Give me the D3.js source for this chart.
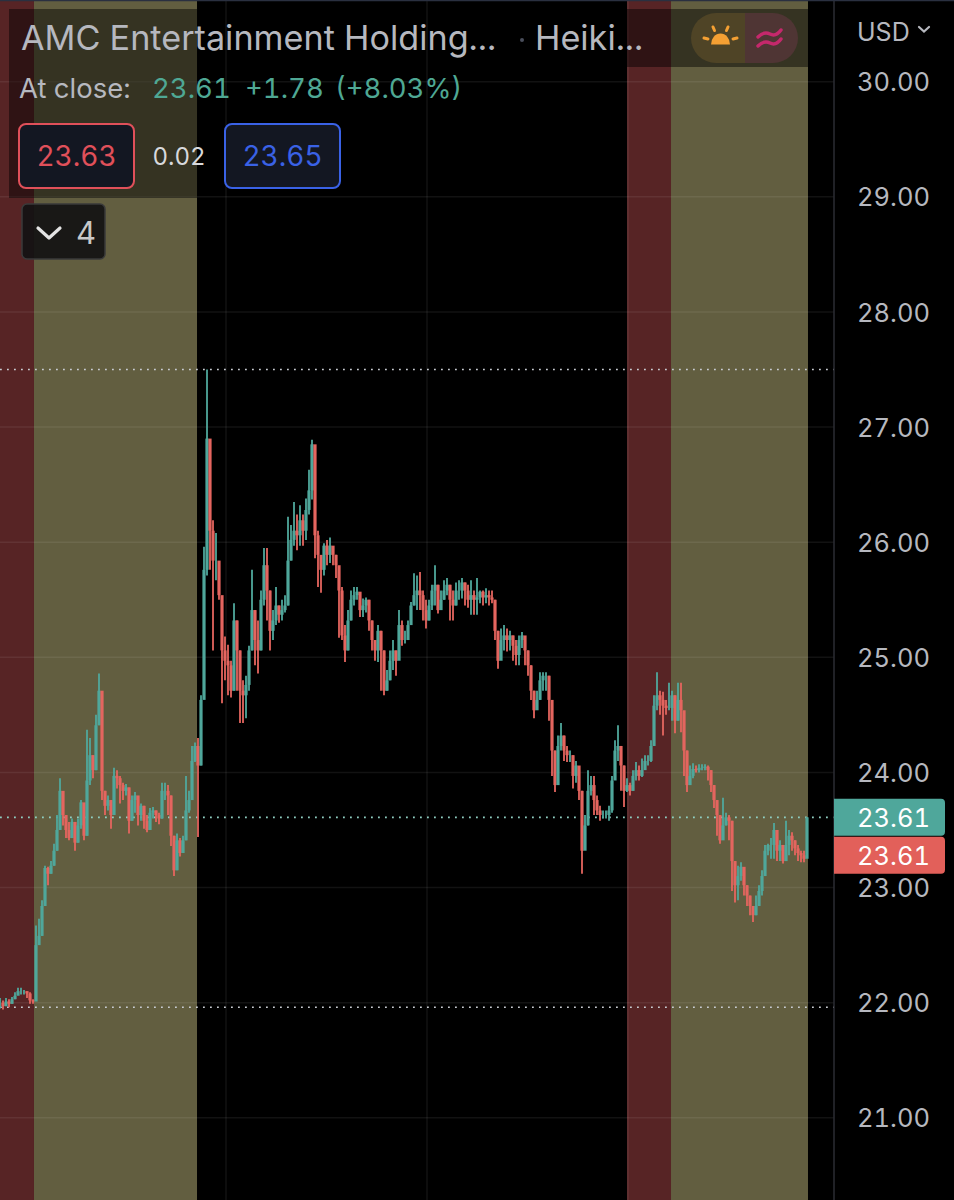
<!DOCTYPE html>
<html>
<head>
<meta charset="utf-8">
<script src="https://cdn.jsdelivr.net/npm/d3@7"></script>
<style>
  html, body { margin: 0; padding: 0; background: #000; }
  svg { display: block; }
  text { font-family: Inter, "Noto Sans", sans-serif; font-variant-numeric: tabular-nums; }
</style>
</head>
<body>
<div id="chart"></div>
<script>
const closes = [22.00,21.97,22.01,21.99,22.03,22.06,22.10,22.10,22.10,22.08,22.02,22.01,
22.50,22.58,22.84,23.17,23.12,23.19,23.32,23.50,23.84,23.63,23.50,23.43,23.57,23.39,23.54,23.74,23.45,23.93,24.15,24.02,24.41,24.71,23.84,23.71,23.76,23.63,23.97,23.95,23.89,23.84,23.87,23.58,23.76,23.80,23.63,23.71,23.58,23.50,23.65,23.67,23.63,23.60,23.84,23.84,23.80,23.45,23.15,23.41,23.30,23.41,23.67,23.76,24.10,24.23,24.06,24.63,
25.76,26.90,26.10,25.84,25.84,25.54,25.06,24.97,24.93,24.71,25.32,25.06,24.71,24.67,24.76,25.06,25.41,25.15,25.06,25.50,25.80,25.58,25.23,25.32,25.45,25.37,25.41,25.45,25.84,26.02,26.10,26.06,26.19,26.10,26.28,26.45,26.85,26.06,25.89,25.76,25.97,25.89,25.97,25.89,25.80,25.58,25.19,25.06,25.32,25.50,25.54,25.57,25.41,25.45,25.50,25.32,25.15,25.06,25.23,25.06,24.71,24.80,24.97,25.06,24.97,25.28,25.15,25.15,25.28,25.45,25.54,25.58,25.54,25.41,25.32,25.45,25.58,25.63,25.41,25.50,25.58,25.63,25.50,25.45,25.58,25.58,25.65,25.58,25.50,25.54,25.50,25.52,25.57,25.52,25.54,25.52,25.50,25.23,24.97,25.15,25.19,25.15,25.19,25.10,25.02,25.15,25.19,25.06,24.93,24.71,24.54,24.63,24.80,24.84,24.84,24.63,24.19,23.89,24.23,24.32,24.19,24.15,24.15,23.97,24.06,23.84,23.32,23.54,23.84,23.89,23.76,23.67,23.63,23.63,23.63,23.67,23.93,24.19,24.23,24.06,23.84,23.89,23.84,23.97,24.02,23.97,24.02,24.10,24.10,24.23,24.58,24.67,24.63,24.58,24.56,24.56,24.67,24.45,24.63,24.54,24.19,23.89,23.97,24.03,24.02,24.04,24.04,24.05,24.02,23.89,23.76,23.63,23.41,23.54,23.61,23.58,23.23,23.02,23.10,23.18,23.02,22.93,22.84,22.76,22.84,22.97,23.10,23.32,23.37,23.37,23.50,23.32,23.37,23.23,23.37,23.45,23.41,23.34,23.30,23.28,23.25,23.61];
const highs = [22.04,22.02,22.04,22.03,22.05,22.09,22.13,22.13,22.11,22.10,22.09,22.03,
22.67,22.73,22.89,23.19,23.18,23.23,23.38,23.63,23.95,23.76,23.63,23.57,23.60,23.54,23.60,23.76,23.71,24.37,24.30,24.15,24.50,24.86,24.60,23.84,23.80,23.76,24.04,24.02,23.97,23.91,23.90,23.87,23.80,23.83,23.76,23.73,23.71,23.63,23.69,23.70,23.67,23.65,23.91,23.91,23.89,23.80,23.45,23.47,23.43,23.45,23.97,23.84,24.23,24.26,24.30,24.67,
25.96,27.50,26.41,26.19,26.08,25.76,25.50,25.18,25.11,24.97,25.47,25.32,25.06,24.80,24.84,25.10,25.76,25.41,25.32,25.58,25.95,25.95,25.58,25.41,25.61,25.45,25.50,25.54,26.22,26.15,26.35,26.24,26.32,26.24,26.38,26.63,26.89,26.52,26.10,25.84,25.99,26.02,26.04,25.95,25.89,25.76,25.61,25.28,25.41,25.58,25.61,25.61,25.54,25.51,25.52,25.50,25.32,25.15,25.28,25.23,25.06,24.89,25.06,25.15,25.06,25.41,25.32,25.23,25.32,25.48,25.73,25.71,25.74,25.58,25.50,25.50,25.63,25.80,25.63,25.58,25.67,25.69,25.63,25.58,25.65,25.67,25.69,25.65,25.63,25.67,25.58,25.69,25.58,25.58,25.60,25.58,25.58,25.50,25.23,25.25,25.28,25.25,25.23,25.19,25.15,25.19,25.22,25.15,25.06,24.93,24.71,24.71,24.87,24.87,24.87,24.84,24.63,24.19,24.32,24.43,24.32,24.23,24.19,24.15,24.10,24.02,23.84,23.63,24.02,23.97,23.97,23.80,23.71,23.67,23.67,23.71,23.97,24.28,24.41,24.23,24.06,23.95,23.91,24.02,24.09,24.06,24.12,24.15,24.15,24.28,24.67,24.87,24.71,24.70,24.63,24.78,24.71,24.67,24.78,24.78,24.50,24.19,24.06,24.08,24.06,24.07,24.07,24.07,24.06,24.02,23.89,23.76,23.63,23.78,23.65,23.63,23.58,23.23,23.19,23.22,23.17,23.02,22.93,22.84,22.93,23.02,23.15,23.37,23.38,23.43,23.56,23.45,23.41,23.37,23.58,23.50,23.48,23.41,23.37,23.32,23.32,23.61];
const lows = [21.95,21.94,21.97,21.96,21.99,22.03,22.07,22.07,22.07,22.04,21.99,21.99,
22.19,22.50,22.58,22.84,23.02,23.12,23.19,23.32,23.50,23.54,23.43,23.41,23.43,23.32,23.39,23.51,23.41,23.45,23.89,23.95,24.02,24.41,23.76,23.63,23.67,23.51,23.63,23.86,23.73,23.76,23.80,23.47,23.58,23.65,23.54,23.58,23.51,23.48,23.50,23.60,23.57,23.55,23.60,23.76,23.63,23.36,23.10,23.15,23.27,23.30,23.41,23.65,23.76,24.09,23.44,24.06,
24.71,25.71,25.76,25.06,25.67,25.50,24.60,24.80,24.67,24.65,24.71,24.71,24.43,24.43,24.47,24.71,25.06,24.93,24.86,25.06,25.45,25.32,25.06,25.15,25.28,25.30,25.32,25.39,25.45,25.84,25.97,25.93,25.97,25.97,26.02,26.24,26.37,25.86,25.61,25.56,25.71,25.80,25.82,25.80,25.69,25.17,25.15,24.96,25.06,25.32,25.45,25.50,25.35,25.35,25.39,25.23,25.06,24.97,24.96,24.71,24.67,24.71,24.80,24.89,24.84,25.02,25.10,25.12,25.15,25.28,25.45,25.41,25.41,25.32,25.25,25.32,25.41,25.45,25.38,25.41,25.50,25.54,25.32,25.32,25.45,25.50,25.51,25.45,25.43,25.37,25.37,25.37,25.47,25.45,25.47,25.45,25.47,25.15,24.90,25.02,25.06,25.05,25.06,24.97,24.93,24.93,25.08,24.93,24.84,24.63,24.47,24.58,24.63,24.71,24.71,24.45,23.97,23.83,23.89,24.19,24.10,24.09,24.09,23.86,23.91,23.76,23.12,23.43,23.54,23.80,23.63,23.63,23.58,23.60,23.60,23.58,23.65,23.97,24.10,23.84,23.70,23.83,23.80,23.84,23.93,23.93,23.96,24.03,24.06,24.09,24.23,24.54,24.50,24.32,24.50,24.54,24.45,24.34,24.45,24.35,23.97,23.83,23.89,23.95,24.00,24.00,24.02,24.02,23.93,23.83,23.69,23.45,23.38,23.45,23.54,23.41,22.97,22.87,22.89,23.06,22.93,22.84,22.76,22.70,22.76,22.84,22.93,23.10,23.28,23.25,23.25,23.23,23.23,23.21,23.23,23.28,23.32,23.28,23.23,23.22,23.22,23.32];

const priceTicks = [21, 22, 23, 24, 25, 26, 27, 28, 29, 30];
const gridBars = [75.33, 142.33, 209.33];

// session shading, in bar numbers
const sessionStarts = [-1, 11.33, 209, 223.67];
const sessionEnds = [11.33, 65.67, 223.67, 269.33];
const sessionKinds = ['ext', 'pre', 'ext', 'pre'];

const dottedPrices = [27.5, 23.61, 21.96];
const dottedColors = ['#c9ccd2', '#8fcfc2', '#c9ccd2'];

const width = 954, height = 1200, plotRight = 834;
const teal = '#4fa79b', red = '#e4655e', labelGrey = '#b6b8bf';

const svg = d3.select('#chart').append('svg')
    .attr('width', width)
    .attr('height', height)
    .style('background', '#000');

// the photo is a little soft, the bars get a touch of blur
svg.append('defs').append('filter')
    .attr('id', 'soft')
    .attr('filterUnits', 'userSpaceOnUse')
    .attr('x', 0).attr('y', 0)
    .attr('width', width).attr('height', height)
    .append('feGaussianBlur')
    .attr('stdDeviation', 0.5);

const x = d3.scaleLinear().domain([0, 270]).range([0, 810]);
const y = d3.scaleLinear().domain([21, 30]).range([1117.8, 81.7]);

// session bands
svg.append('g').selectAll('rect')
    .data(sessionStarts)
    .join('rect')
    .attr('x', d => Math.max(0, x(d)))
    .attr('y', 0)
    .attr('width', (d, i) => x(sessionEnds[i]) - Math.max(0, x(d)))
    .attr('height', height)
    .attr('fill', (d, i) => sessionKinds[i] === 'ext' ? '#572425' : '#625e40');

// grid
svg.append('g').selectAll('line')
    .data(priceTicks)
    .join('line')
    .attr('x1', 0)
    .attr('x2', plotRight)
    .attr('y1', d => y(d))
    .attr('y2', d => y(d))
    .attr('stroke', 'rgba(255,255,255,0.07)')
    .attr('stroke-width', 1.5);

svg.append('g').selectAll('line')
    .data(gridBars)
    .join('line')
    .attr('x1', d => x(d))
    .attr('x2', d => x(d))
    .attr('y1', 0)
    .attr('y2', height)
    .attr('stroke', 'rgba(255,255,255,0.07)')
    .attr('stroke-width', 1.5);

// dotted levels
svg.append('g').selectAll('line')
    .data(dottedPrices)
    .join('line')
    .attr('x1', 0)
    .attr('x2', plotRight)
    .attr('y1', d => y(d))
    .attr('y2', d => y(d))
    .attr('stroke', (d, i) => dottedColors[i])
    .attr('stroke-width', 1.6)
    .attr('stroke-dasharray', '1.8 5.2');

// candles, open is taken as the close before it
const barColor = i => closes[i] >= closes[Math.max(0, i - 1)] ? teal : red;
const candles = svg.append('g').attr('filter', 'url(#soft)');

candles.append('g').selectAll('line')
    .data(closes)
    .join('line')
    .attr('x1', (d, i) => x(i))
    .attr('x2', (d, i) => x(i))
    .attr('y1', (d, i) => y(highs[i]))
    .attr('y2', (d, i) => y(lows[i]))
    .attr('stroke', (d, i) => barColor(i))
    .attr('stroke-opacity', 0.9)
    .attr('stroke-width', 2);

candles.append('g').selectAll('line')
    .data(closes)
    .join('line')
    .attr('x1', (d, i) => x(i))
    .attr('x2', (d, i) => x(i))
    .attr('y1', (d, i) => y(closes[Math.max(0, i - 1)]))
    .attr('y2', d => y(d))
    .attr('stroke', (d, i) => barColor(i))
    .attr('stroke-width', 3.2);

// price axis
svg.append('line')
    .attr('x1', plotRight).attr('x2', plotRight)
    .attr('y1', 0).attr('y2', height)
    .attr('stroke', '#2b2d33')
    .attr('stroke-width', 1.5);

svg.append('line')
    .attr('x1', 0).attr('x2', width)
    .attr('y1', 0.5).attr('y2', 0.5)
    .attr('stroke', '#2a3040')
    .attr('stroke-width', 1.5);

const axis = svg.append('g')
    .attr('transform', 'translate(857,1)')
    .call(d3.axisRight(y).tickValues(priceTicks).tickFormat(d3.format('.2f')).tickSize(0).tickPadding(0));
axis.select('.domain').remove();
axis.selectAll('text')
    .attr('font-size', 25.5)
    .attr('fill', labelGrey)
    .style('font-family', 'Inter, sans-serif');

// last price tags
const lastPrice = closes[closes.length - 1];
const tagColors = [teal, '#e2605a'];
const tagY = [y(lastPrice), y(lastPrice - 0.33)];
tagColors.forEach((c, i) => {
    svg.append('path')
        .attr('d', `M${plotRight},${tagY[i] - 18.5}H941a4,4 0 0 1 4,4V${tagY[i] + 14.5}a4,4 0 0 1 -4,4H${plotRight}Z`)
        .attr('fill', c);
    svg.append('text')
        .attr('x', 857)
        .attr('y', tagY[i] + 9.5)
        .attr('font-size', 25.5)
        .attr('fill', '#fff')
        .text(d3.format('.2f')(lastPrice));
});

// legend overlays
svg.append('rect').attr('x', 9).attr('y', 9).attr('width', 188).attr('height', 189).attr('fill', 'rgba(0,0,0,0.46)');
svg.append('rect').attr('x', 627).attr('y', 9).attr('width', 181).attr('height', 58).attr('fill', 'rgba(0,0,0,0.46)');

svg.append('text').attr('x', 21).attr('y', 50).attr('font-size', 34.2).attr('fill', labelGrey)
    .text('AMC Entertainment Holding...');
svg.append('circle').attr('cx', 522).attr('cy', 40).attr('r', 2).attr('fill', '#4a4e5c');
svg.append('text').attr('x', 535).attr('y', 50).attr('font-size', 34.2).attr('fill', labelGrey)
    .text('Heiki...');

svg.append('text').attr('x', 19).attr('y', 98).attr('font-size', 27.5).attr('fill', labelGrey).text('At close:');
svg.append('text').attr('x', 152).attr('y', 98).attr('font-size', 27.5).attr('fill', '#4fa894').text('23.61');
svg.append('text').attr('x', 245).attr('y', 98).attr('font-size', 27.5).attr('fill', '#4fa894').text('+1.78');
svg.append('text').attr('x', 335).attr('y', 98).attr('font-size', 27.5).attr('fill', '#4fa894').text('(+8.03%)');

// bid / ask boxes
const boxX = [19, 225];
const boxStroke = ['#e0505a', '#3a62e6'];
const boxText = ['23.63', '23.65'];
boxX.forEach((bx, i) => {
    svg.append('rect')
        .attr('x', bx).attr('y', 124)
        .attr('width', 115).attr('height', 64)
        .attr('rx', 7)
        .attr('fill', '#131722')
        .attr('stroke', boxStroke[i])
        .attr('stroke-width', 2);
    svg.append('text')
        .attr('x', bx + 57.5).attr('y', 166)
        .attr('text-anchor', 'middle')
        .attr('font-size', 28)
        .attr('fill', boxStroke[i])
        .text(boxText[i]);
});
svg.append('text').attr('x', 179).attr('y', 165).attr('text-anchor', 'middle')
    .attr('font-size', 24).attr('fill', '#d8d9dc').text('0.02');

// collapse button
svg.append('rect').attr('x', 22).attr('y', 204).attr('width', 83).attr('height', 55).attr('rx', 5)
    .attr('fill', 'rgba(18,18,18,0.92)').attr('stroke', '#3a3a3a').attr('stroke-width', 1.5);
svg.append('path').attr('d', 'M38,228L49,238L60,228').attr('fill', 'none')
    .attr('stroke', '#e4e4e4').attr('stroke-width', 3.2).attr('stroke-linecap', 'round').attr('stroke-linejoin', 'round');
svg.append('text').attr('x', 76).attr('y', 244).attr('font-size', 31).attr('fill', '#c8c8c8').text('4');

// session pill
svg.append('path').attr('d', 'M745,13H716a25,25 0 0 0 0,50H745Z').attr('fill', '#4f4426');
svg.append('path').attr('d', 'M745,13H773a25,25 0 0 1 0,50H745Z').attr('fill', '#4f3534');
svg.append('path').attr('d', 'M711,44.5a9.5,11 0 0 1 19,0Z').attr('fill', '#f5a033');
const rays = ['M704,38L708,39', 'M713,27L714.5,30.5', 'M726.5,30.5L728,27', 'M733,39L737,38'];
svg.append('g').selectAll('path')
    .data(rays)
    .join('path')
    .attr('d', d => d)
    .attr('stroke', '#f5a033')
    .attr('stroke-width', 3)
    .attr('stroke-linecap', 'round');
const waves = ['M758,37q6,-6 12,-3t11,-4', 'M758,46q6,-6 12,-3t11,-4'];
svg.append('g').selectAll('path')
    .data(waves)
    .join('path')
    .attr('d', d => d)
    .attr('fill', 'none')
    .attr('stroke', '#c4286c')
    .attr('stroke-width', 3.4)
    .attr('stroke-linecap', 'round');

// currency
svg.append('text').attr('x', 857).attr('y', 41).attr('font-size', 25).attr('fill', labelGrey).text('USD');
svg.append('path').attr('d', 'M919,27L924,31.5L929,27').attr('fill', 'none')
    .attr('stroke', labelGrey).attr('stroke-width', 2.2).attr('stroke-linecap', 'round');
</script>
</body>
</html>
